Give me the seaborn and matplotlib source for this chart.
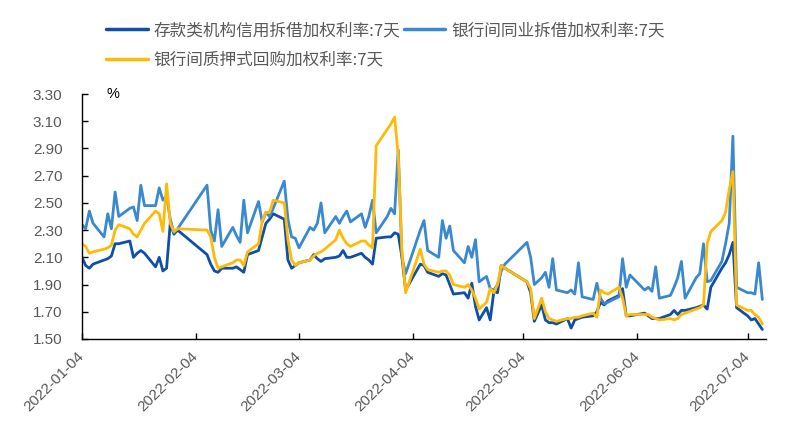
import pandas as pd
import matplotlib.pyplot as plt
import matplotlib.dates as mdates
from matplotlib.lines import Line2D
import seaborn as sns

# ===================== Data =====================
names = ["存款类机构信用拆借加权利率:7天", "银行间同业拆借加权利率:7天", "银行间质押式回购加权利率:7天"]
colors = ["#0F4FA6", "#3A89D0", "#FFBA08"]

# interbank trading calendar 2022 (holidays out, weekend make-up days in)
holidays = ["2022-01-31", "2022-02-01", "2022-02-02", "2022-02-03", "2022-02-04",
            "2022-04-04", "2022-04-05", "2022-05-02", "2022-05-03", "2022-05-04", "2022-06-03"]
makeup_days = ["2022-01-29", "2022-01-30", "2022-04-02", "2022-04-24", "2022-05-07"]
dates = pd.bdate_range("2022-01-04", "2022-07-08")
dates = dates.drop(pd.to_datetime(holidays)).union(pd.to_datetime(makeup_days))

dr007_credit = [
    # Jan
    2.10, 2.04, 2.02, 2.05, 2.08, 2.09, 2.11, 2.20, 2.20, 2.22, 2.10, 2.13, 2.15, 2.13, 2.03, 2.10, 2.00, 2.02, 2.35, 2.27, 2.30,
    # Feb
    2.12, 2.05, 2.00, 1.99, 2.02, 2.02, 2.03, 2.01, 1.99, 2.12, 2.15, 2.25, 2.35, 2.38, 2.42, 2.38,
    # Mar
    2.08, 2.02, 2.04, 2.06, 2.08, 2.12, 2.09, 2.07, 2.09, 2.10, 2.11, 2.15, 2.10, 2.10, 2.13, 2.10, 2.08, 2.05, 2.24, 2.25, 2.25, 2.28, 2.27,
    # Apr
    2.10, 1.86, 2.05, 2.04, 1.99, 1.96, 1.98, 1.97, 1.90, 1.83, 1.84, 1.80, 1.91, 1.74, 1.64, 1.73, 1.64, 1.85, 1.84, 2.04, 2.02,
    # May
    1.92, 1.84, 1.63, 1.75, 1.64, 1.62, 1.62, 1.61, 1.65, 1.58, 1.64, 1.65, 1.66, 1.67, 1.70, 1.77, 1.75, 1.78, 1.82, 1.87,
    # Jun
    1.67, 1.67, 1.69, 1.67, 1.65, 1.65, 1.65, 1.68, 1.71, 1.68, 1.71, 1.71, 1.73, 1.74, 1.75, 1.72, 1.88, 2.02, 2.06, 2.12, 2.21,
    # Jul
    1.73, 1.67, 1.64, 1.65, 1.61, 1.57,
]
ibo007 = [
    2.34, 2.31, 2.44, 2.35, 2.25, 2.42, 2.31, 2.58, 2.40, 2.46, 2.47, 2.37, 2.63, 2.48, 2.48, 2.61, 2.52, 2.55, 2.38, 2.28, 2.31,
    2.63, 2.30, 2.22, 2.45, 2.18, 2.32, 2.26, 2.21, 2.52, 2.28, 2.51, 2.36, 2.43, 2.40, 2.46, 2.66,
    2.38, 2.25, 2.24, 2.17, 2.32, 2.30, 2.35, 2.50, 2.28, 2.40, 2.35, 2.40, 2.44, 2.36, 2.42, 2.32, 2.40, 2.52, 2.28, 2.40, 2.46, 2.42, 2.89,
    2.10, 1.98, 2.30, 2.37, 2.15, 2.10, 2.37, 2.24, 2.33, 2.15, 2.06, 2.18, 2.10, 2.23, 1.92, 1.96, 1.87, 1.86, 1.90, 2.00, 2.05,
    2.21, 2.10, 1.90, 1.95, 1.99, 1.88, 2.09, 1.86, 1.84, 1.86, 1.83, 2.06, 1.81, 1.79, 1.91, 1.80, 1.76, 1.77, 1.81, 2.09,
    1.88, 1.97, 1.86, 1.88, 1.85, 2.03, 1.80, 1.82, 1.88, 1.95, 2.07, 1.80, 1.95, 1.98, 2.20, 1.92, 1.93, 2.07, 2.20, 2.35, 2.99,
    1.88, 1.84, 1.84, 1.83, 2.06, 1.79,
]
r007 = [
    2.20, 2.18, 2.13, 2.14, 2.16, 2.17, 2.19, 2.30, 2.34, 2.31, 2.27, 2.25, 2.30, 2.35, 2.44, 2.42, 2.29, 2.64, 2.35, 2.29, 2.31,
    2.30, 2.25, 2.10, 2.02, 2.03, 2.06, 2.08, 2.08, 2.04, 2.14, 2.20, 2.37, 2.43, 2.43, 2.52, 2.50,
    2.23, 2.08, 2.04, 2.06, 2.08, 2.11, 2.13, 2.14, 2.16, 2.23, 2.30, 2.24, 2.20, 2.18, 2.22, 2.22, 2.19, 2.17, 2.92, 3.04, 3.08, 3.13, 2.85,
    2.15, 1.84, 2.16, 2.05, 2.01, 1.99, 2.00, 2.00, 1.97, 1.90, 1.88, 1.90, 1.86, 1.80, 1.72, 1.77, 1.87, 1.84, 1.90, 2.04, 2.02,
    1.92, 1.87, 1.65, 1.80, 1.70, 1.65, 1.64, 1.63, 1.65, 1.65, 1.66, 1.66, 1.67, 1.69, 1.66, 1.86, 1.84, 1.83, 1.88, 1.80,
    1.67, 1.68, 1.68, 1.68, 1.66, 1.65, 1.64, 1.65, 1.64, 1.65, 1.68, 1.69, 1.72, 1.73, 1.75, 2.20, 2.29, 2.37, 2.43, 2.60, 2.73,
    1.75, 1.71, 1.71, 1.68, 1.66, 1.61,
]

y_ticks = [1.50, 1.70, 1.90, 2.10, 2.30, 2.50, 2.70, 2.90, 3.10, 3.30]
x_ticks = ["2022-01-04", "2022-02-04", "2022-03-04", "2022-04-04", "2022-05-04", "2022-06-04", "2022-07-04"]

df = pd.DataFrame({"date": dates, names[0]: dr007_credit, names[1]: ibo007, names[2]: r007})
long_df = df.melt(id_vars="date", var_name="series", value_name="value")

# ===================== Plot =====================
sns.set_theme(style="ticks")
plt.rcParams["font.family"] = ["Liberation Sans", "Noto Sans CJK SC"]

fig = plt.figure(figsize=(7.98, 4.37), dpi=100)
ax = fig.add_axes([82 / 798, 1 - 339 / 437, 684 / 798, 245 / 437])

sns.lineplot(data=long_df, x="date", y="value", hue="series", hue_order=names,
             palette=dict(zip(names, colors)), linewidth=2.0, legend=False, ax=ax)
for line in ax.get_lines():
    line.set_solid_joinstyle("round")

ax.set_ylim(1.5, 3.3)
ax.set_yticks(y_ticks)
ax.set_yticklabels([f"{v:.2f}" for v in y_ticks])
ax.set_xlim(pd.Timestamp("2022-01-04"), pd.Timestamp("2022-07-09"))
ax.set_xticks(pd.to_datetime(x_ticks))
ax.xaxis.set_major_formatter(mdates.DateFormatter("%Y-%m-%d"))
ax.set_xlabel("")
ax.set_ylabel("")

sns.despine(ax=ax)
for s in ["left", "bottom"]:
    ax.spines[s].set_color("black")
    ax.spines[s].set_linewidth(1.0)
ax.tick_params(axis="both", direction="in", length=4, width=1, color="black",
               labelcolor="#595959", labelsize=11)
ax.tick_params(axis="y", pad=14)
ax.tick_params(axis="x", pad=11)
for lbl in ax.get_xticklabels():
    lbl.set_rotation(45)
    lbl.set_ha("right")
    lbl.set_va("center")
    lbl.set_rotation_mode("anchor")

ax.text(0.045, 1.0, "%", transform=ax.transAxes, ha="center", va="center",
        fontsize=10.5, color="black")

# legend: row 1 = first two series, row 2 = third
handles = [Line2D([], [], color=c, linewidth=2.5) for c in colors]
order = [0, 2, 1]
fig.legend([handles[i] for i in order], [names[i] for i in order], ncol=2,
           loc="upper left", bbox_to_anchor=(106 / 798, 1 - 22 / 437),
           frameon=False, borderpad=0, borderaxespad=0,
           handlelength=2.5, handletextpad=0.35, columnspacing=0.2, labelspacing=0.75,
           prop={"family": ["Noto Sans CJK SC", "Liberation Sans"], "size": 12},
           labelcolor="#595959")

fig.savefig("out.png", dpi=100)
